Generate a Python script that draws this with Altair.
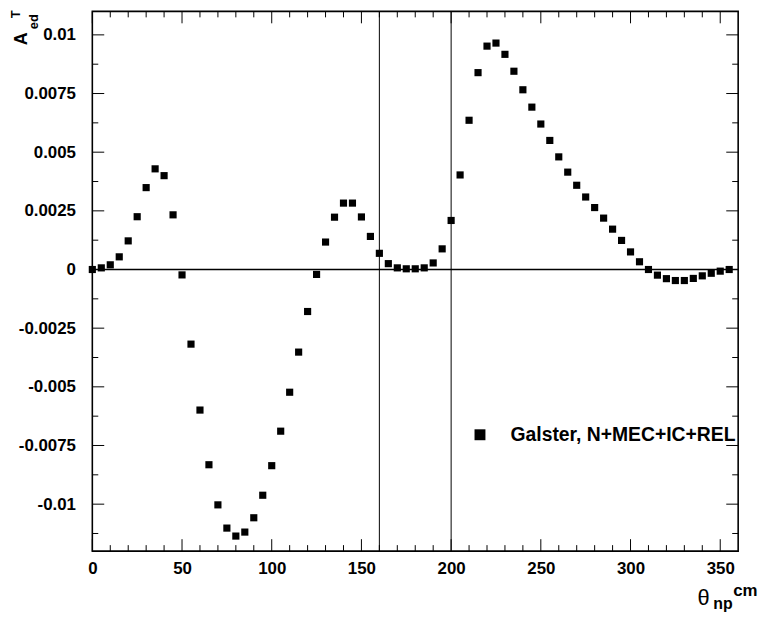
import altair as alt
import pandas as pd

# ---- data ----
theta = list(range(0, 360, 5))
asym = [0.0, 0.00007, 0.0002, 0.00054, 0.00122, 0.00225, 0.00349, 0.00429, 0.0040, 0.00233,
        -0.00023, -0.00318, -0.00599, -0.00832, -0.01003, -0.01102, -0.01136, -0.01119, -0.01058, -0.00962,
        -0.00836, -0.00689, -0.00523, -0.00352, -0.00179, -0.00021, 0.00117, 0.00223, 0.00283, 0.00283,
        0.00224, 0.00141, 0.00069, 0.00025, 0.00007, 0.00003, 0.00003, 0.00007, 0.00028, 0.00088,
        0.00209, 0.00403, 0.00636, 0.00839, 0.00952, 0.00965, 0.00917, 0.00845, 0.00766, 0.00692,
        0.0062, 0.0055, 0.0048, 0.00415, 0.00359, 0.00309, 0.00264, 0.00219, 0.00172, 0.00124,
        0.00075, 0.00033, 0.0, -0.00024, -0.00039, -0.00047, -0.00047, -0.00038, -0.00027, -0.00016,
        -0.00007, 0.0]
series_name = "Galster, N+MEC+IC+REL"

x_major = [0, 50, 100, 150, 200, 250, 300, 350]
x_minor = [v for v in range(10, 360, 10) if v % 50 != 0]
y_major = [-0.01, -0.0075, -0.005, -0.0025, 0.0, 0.0025, 0.005, 0.0075, 0.01]
y_minor = [-0.01125, -0.00875, -0.00625, -0.00375, -0.00125, 0.00125, 0.00375, 0.00625, 0.00875]
vlines = [160, 200]
hline = [0.0]

x_domain = [0, 360]
y_domain = [-0.012, 0.011]

W, H = 651, 544
FONT = "Liberation Sans"

df = pd.DataFrame({"theta": theta, "asym": asym, "series": [series_name] * len(theta)})

xs = alt.Scale(domain=x_domain, nice=False, zero=False)
ys = alt.Scale(domain=y_domain, nice=False, zero=False)

x_axis = alt.Axis(values=x_major, title=None, ticks=False, domain=False, grid=False,
                  labelFont=FONT, labelFontSize=17, labelFontWeight="bold",
                  labelColor="black", labelPadding=10, labelFlush=False)
y_axis = alt.Axis(values=y_major, title=None, ticks=False, domain=False, grid=False,
                  labelFont=FONT, labelFontSize=17, labelFontWeight="bold",
                  labelColor="black", labelPadding=17, labelFlush=False,
                  labelExpr="datum.value == 0 ? '0' : (datum.value < 0 ? '-' : '') + format(abs(datum.value), '~g')")

points = alt.Chart(df).mark_square(size=52, opacity=1, filled=True).encode(
    x=alt.X("theta:Q", scale=xs, axis=x_axis),
    y=alt.Y("asym:Q", scale=ys, axis=y_axis),
    color=alt.Color("series:N", scale=alt.Scale(range=["#000000"]),
                    legend=alt.Legend(title=None, orient="none", legendX=381, legendY=417,
                                      symbolType="square", symbolSize=121, symbolFillColor="black",
                                      symbolStrokeWidth=0, symbolOpacity=1,
                                      labelFont=FONT, labelFontSize=19.5, labelFontWeight="bold",
                                      labelColor="black", labelOffset=21, padding=0,
                                      labelLimit=400)),
)

vl = alt.Chart(pd.DataFrame({"v": vlines})).mark_rule(color="black", strokeWidth=1).encode(
    x=alt.X("v:Q", scale=xs, axis=x_axis))
hl = alt.Chart(pd.DataFrame({"v": hline})).mark_rule(color="black", strokeWidth=1.6).encode(
    y=alt.Y("v:Q", scale=ys, axis=y_axis))

def xticks(vals, length):
    d = pd.DataFrame({"v": vals})
    bottom = alt.Chart(d).mark_rule(color="black", strokeWidth=1).encode(
        x=alt.X("v:Q", scale=xs, axis=x_axis), y=alt.value(H), y2=alt.value(H - length))
    top = alt.Chart(d).mark_rule(color="black", strokeWidth=1).encode(
        x=alt.X("v:Q", scale=xs, axis=x_axis), y=alt.value(0), y2=alt.value(length))
    return [bottom, top]

def yticks(vals, length):
    d = pd.DataFrame({"v": vals})
    left = alt.Chart(d).mark_rule(color="black", strokeWidth=1).encode(
        y=alt.Y("v:Q", scale=ys, axis=y_axis), x=alt.value(0), x2=alt.value(length))
    right = alt.Chart(d).mark_rule(color="black", strokeWidth=1).encode(
        y=alt.Y("v:Q", scale=ys, axis=y_axis), x=alt.value(W), x2=alt.value(W - length))
    return [left, right]

def label(txt, x, y, size, weight="bold", angle=0):
    return alt.Chart(pd.DataFrame({"t": [txt]})).mark_text(
        font=FONT, fontSize=size, fontWeight=weight, color="black",
        align="left", baseline="alphabetic", angle=angle).encode(
        text="t:N", x=alt.value(x), y=alt.value(y))

titles = [
    label("\u03b8", 610, 598, 22, weight="normal"),
    label("np", 626, 602, 16),
    label("cm", 646, 589, 17),
    label("A", -66, 34, 18, angle=270),
    label("ed", -55, 18, 13, angle=270),
    label("T", -73, 7, 13, angle=270),
]

layers = [points, vl, hl] + xticks(x_major, 12) + xticks(x_minor, 6) + yticks(y_major, 12) + yticks(y_minor, 6) + titles

chart = alt.layer(*layers).properties(
    width=W, height=H,
    background="white",
    autosize=alt.AutoSizeParams(type="none"),
    padding={"left": 85, "top": 1, "right": 21, "bottom": 62},
).configure_view(stroke="black", strokeWidth=1.6)

chart.save("out.html", embed_options={"renderer": "svg", "actions": False})
